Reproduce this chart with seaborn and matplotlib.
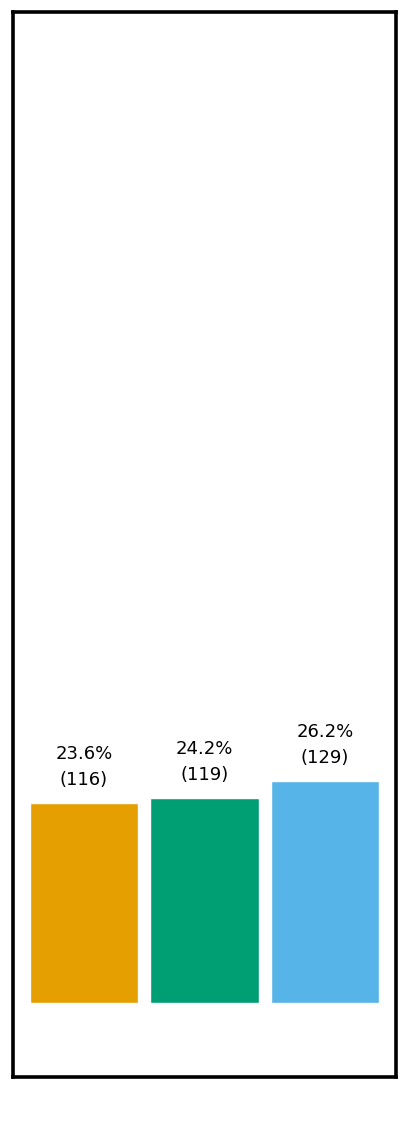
import matplotlib
matplotlib.use("Agg")
from matplotlib import pyplot as plt
import seaborn as sns
import pandas as pd

groups = ["A", "B", "C"]
percents = [23.6, 24.2, 26.2]
counts = [116, 119, 129]
colors = ["#E69F00", "#009E73", "#56B4E9"]

df = pd.DataFrame({"group": groups, "pct": percents})

sns.set_style("white")
plt.rcParams['font.family'] = ['DejaVu Sans']
fig = plt.figure(figsize=(4.16, 11.37), dpi=100)
ax = fig.add_axes([13/416, 1 - 1077/1137, (396-13)/416, (1077-12)/1137])
sns.barplot(data=df, x="group", y="pct", hue="group", palette=colors,
            width=0.9, legend=False, ax=ax, saturation=1)

for i, (p, c) in enumerate(zip(percents, counts)):
    ax.text(i, p + 1.6, f"{p}%\n({c})", ha="center", va="bottom",
            fontsize=13, linespacing=1.6, color="black")

ax.set_xlim(-0.59, 2.59)
ax.set_ylim(-8.8, 117)
ax.set_xticks([])
ax.set_yticks([])
ax.set_xlabel("")
ax.set_ylabel("")
for s in ax.spines.values():
    s.set_linewidth(2.6)
    s.set_color("black")

fig.savefig("out.png", dpi=100)
